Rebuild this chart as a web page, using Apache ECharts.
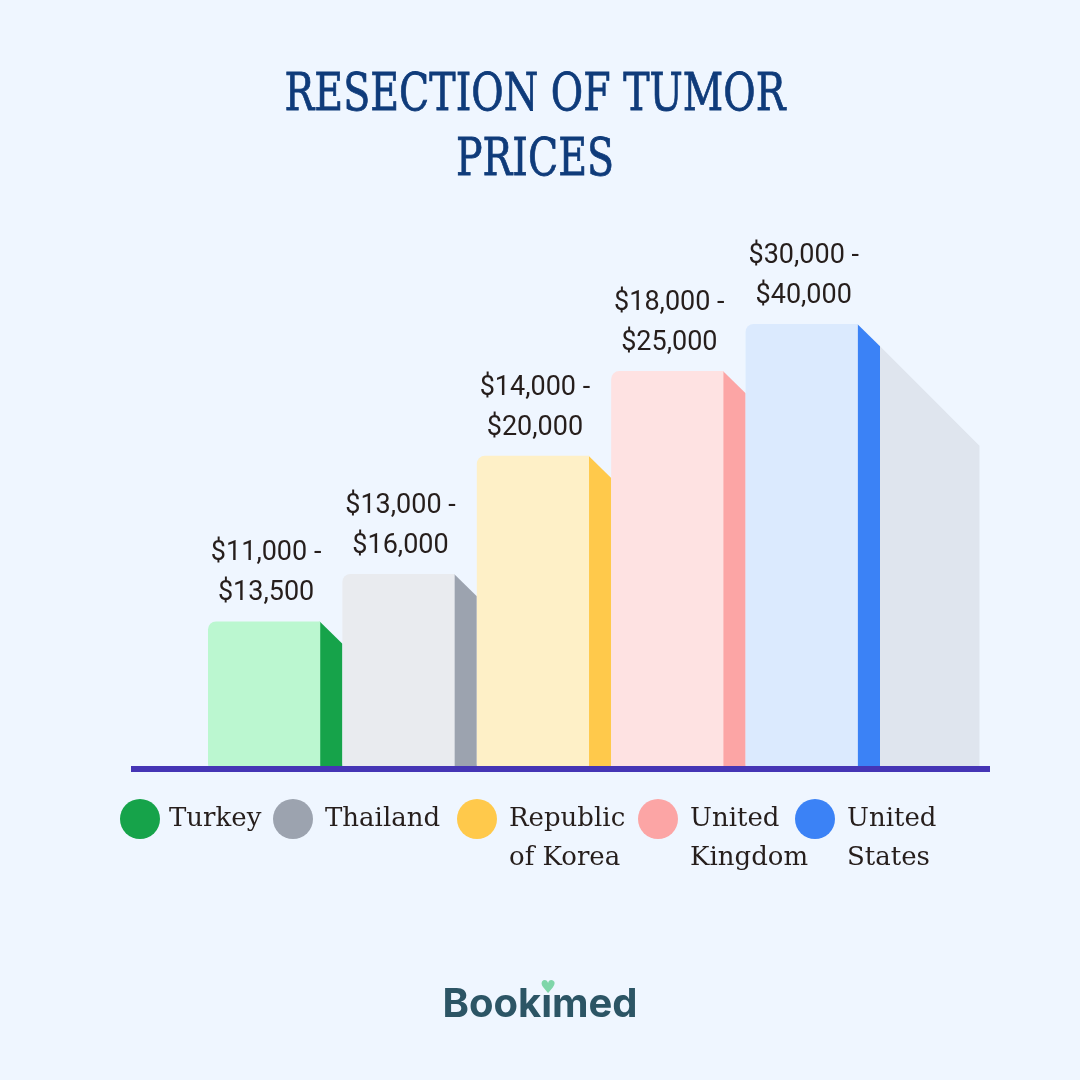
<!DOCTYPE html>
<html>
<head>
<meta charset="utf-8">
<script src="https://cdn.jsdelivr.net/npm/echarts@6/dist/echarts.min.js"></script>
<style>
html,body{margin:0;padding:0;background:#eff6ff;}
#chart{width:1080px;height:1080px;}
</style>
</head>
<body>
<div id="chart"></div>
<script>
// ---- data ----
const categories = ["Turkey", "Thailand", "Republic of Korea", "United Kingdom", "United States"];
const priceLow  = [11000, 13000, 14000, 18000, 30000];
const priceHigh = [13500, 16000, 20000, 25000, 40000];
// bar heights as drawn in the infographic (relative level, tallest = 100)
const visualLevel = [33, 43.7, 70.3, 89.4, 100];
const titleLines = ["RESECTION OF TUMOR", "PRICES"];

// ---- styles ----
const frontColors = ["#bbf7d0", "#e9ebef", "#fef0c7", "#fee2e2", "#dbeafe"];
const sideColors  = ["#16a34a", "#9ca3af", "#ffc94b", "#fca5a5", "#3b82f6"];
const shadowColor = "#dfe5ee";
const textColor = "#261e1c";

const fmt = v => "$" + v.toLocaleString("en-US");

function renderItem(params, api) {
  const i = params.dataIndex;
  const v = api.value(1);
  const top = api.coord([i, v]);
  const base = api.coord([i, 0]);
  const bw = api.size([1, 0])[0];
  const x0 = top[0] - bw / 2;
  const fw = bw * 0.835;
  const sw = bw - fw;
  const children = [];
  if (i === categories.length - 1) {
    const shW = bw * 0.74;
    children.push({
      type: "polygon",
      shape: { points: [[x0 + bw, top[1] + sw], [x0 + bw + shW, top[1] + sw + shW], [x0 + bw + shW, base[1]], [x0 + bw, base[1]]] },
      style: { fill: shadowColor }
    });
  }
  children.push({
    type: "polygon",
    shape: { points: [[x0 + fw - 0.5, top[1]], [x0 + bw, top[1] + sw], [x0 + bw, base[1]], [x0 + fw - 0.5, base[1]]] },
    style: { fill: sideColors[i] }
  });
  children.push({
    type: "rect",
    shape: { x: x0, y: top[1], width: fw, height: base[1] - top[1], r: [8, 0, 0, 4] },
    style: { fill: frontColors[i] }
  });
  children.push({
    type: "text",
    style: {
      text: fmt(priceLow[i]) + " -\n" + fmt(priceHigh[i]),
      x: x0 + fw / 2 + 2,
      y: top[1] - 8,
      textAlign: "center",
      textVerticalAlign: "bottom",
      fontFamily: "Roboto",
      fontSize: 27,
      lineHeight: 40,
      fill: textColor
    }
  });
  return { type: "group", children };
}

const chart = echarts.init(document.getElementById("chart"), null, { renderer: "canvas" });

// legend (decoration built from categories)
const legendX = [140, 293, 477, 658, 815];
const legendGraphics = [];
categories.forEach((name, i) => {
  legendGraphics.push({
    type: "circle",
    shape: { cx: legendX[i], cy: 819, r: 20 },
    style: { fill: sideColors[i] }
  });
  legendGraphics.push({
    type: "text",
    x: legendX[i] + (i === 0 ? 29 : 32),
    y: 800,
    style: {
      text: name.replace(" ", "\n"),
      fontFamily: "DejaVu Serif",
      fontSize: 26,
      lineHeight: 39,
      fill: textColor,
      textVerticalAlign: "top"
    }
  });
});

const option = {
  backgroundColor: "#eff6ff",
  animation: false,
  grid: { left: 208, right: 200, top: 324, bottom: 312 },
  xAxis: {
    type: "category",
    data: categories,
    axisLine: { show: false },
    axisTick: { show: false },
    axisLabel: { show: false }
  },
  yAxis: {
    type: "value",
    min: 0,
    max: 100,
    show: false,
    splitLine: { show: false }
  },
  series: [{
    type: "custom",
    renderItem: renderItem,
    encode: { x: 0, y: 1 },
    data: visualLevel.map((v, i) => [i, v]),
    z: 2
  }],
  graphic: [
    {
      type: "text",
      x: 535, y: 64,
      scaleX: 0.76,
      style: {
        text: titleLines.join("\n"),
        fontFamily: "DejaVu Serif",
        fontSize: 52,
        lineHeight: 65,
        textAlign: "center",
        textVerticalAlign: "top",
        fill: "#0f3b7a",
        stroke: "#0f3b7a",
        lineWidth: 0.8
      }
    },
    {
      type: "rect",
      shape: { x: 131, y: 766, width: 859, height: 6 },
      style: { fill: "#4535b5" },
      z: 10
    },
    ...legendGraphics,
    {
      type: "text",
      x: 540, y: 1005,
      style: {
        text: "Bookımed",
        fontFamily: "Inter",
        fontWeight: "bold",
        fontSize: 40,
        textAlign: "center",
        textVerticalAlign: "middle",
        fill: "#2c5565"
      }
    },
    {
      type: "text",
      x: 548, y: 988,
      style: {
        text: "♥",
        fontFamily: "DejaVu Sans",
        fontSize: 18,
        textAlign: "center",
        textVerticalAlign: "middle",
        fill: "#7fd6a9"
      }
    }
  ]
};
chart.setOption(option);
</script>
</body>
</html>
